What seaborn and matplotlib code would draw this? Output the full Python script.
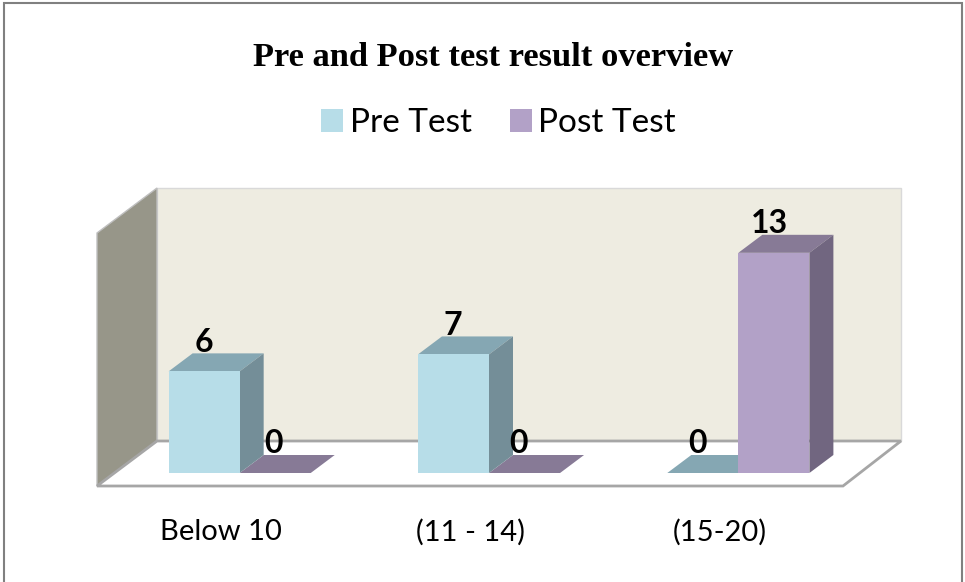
import matplotlib
matplotlib.use("Agg")
import matplotlib.pyplot as plt
from matplotlib.patches import Polygon, Rectangle
from matplotlib.transforms import IdentityTransform, ScaledTranslation
import pandas as pd
import seaborn as sns

categories = ["Below 10", "(11 - 14)", "(15-20)"]
pre_test = [6, 7, 0]
post_test = [0, 0, 13]
series_names = ["Pre Test", "Post Test"]
chart_title = "Pre and Post test result overview"

W, H = 965, 582
DEPTH_X, DEPTH_Y = 24, 18
sns.set_theme(style="white")
plt.rcParams["font.family"] = ["Lato", "DejaVu Sans"]

df = pd.DataFrame({
    "category": categories * 2,
    "series": [series_names[0]] * 3 + [series_names[1]] * 3,
    "value": pre_test + post_test,
})
colors = {series_names[0]: "#B7DDE8", series_names[1]: "#B2A1C7"}
tops = {series_names[0]: "#85A7B3", series_names[1]: "#877A96"}
sides = {series_names[0]: "#748E98", series_names[1]: "#716680"}

fig = plt.figure(figsize=(W / 100, H / 100), dpi=100, facecolor="white")
left, right, base, top = 115, 863, 473, 202
ax = fig.add_axes([left / W, (H - base) / H, (right - left) / W, (base - top) / H])
ax.patch.set_visible(False)

sns.barplot(data=df, x="category", y="value", hue="series", order=categories,
            hue_order=series_names, palette=colors, width=0.57, gap=0,
            saturation=1, ax=ax, zorder=3, legend=True, linewidth=0)
ax.set_xlim(-0.5, 2.5)
ax.set_ylim(0, 16)
ax.set_xlabel("")
ax.set_ylabel("")
ax.set_yticks([])
sns.despine(ax=ax, left=True, bottom=True)


def px(points):
    return [(x, H - y) for x, y in points]


def add_shape(points, color, z, edge="none", lw=0):
    ax.add_patch(Polygon(px(points), closed=True, facecolor=color, edgecolor=edge,
                         linewidth=lw, transform=IdentityTransform(),
                         clip_on=False, zorder=z))


# walls and floor of the 3D box
add_shape([(157, 188), (901, 188), (901, 441), (157, 441)], "#EEECE1", 0.5, "#D9D9D9", 1)
add_shape([(97, 233), (157, 188), (157, 441), (97, 486)], "#979689", 0.6, "#BFBFBF", 1)
add_shape([(97, 486), (157, 441), (901, 441), (843, 486)], "white", 0.7, "#A6A6A6", 2)

# depth faces computed from the bars seaborn drew
fig.canvas.draw()
bar_patches = [p for c in ax.containers for p in c.patches]
names = [series_names[0]] * 3 + [series_names[1]] * 3
for patch, name in zip(bar_patches, names):
    (x0, y0), (x1, y1) = ax.transData.transform(
        [(patch.get_x(), 0), (patch.get_x() + patch.get_width(), patch.get_height())])
    flat = patch.get_height() == 0
    add_shape([(x0, H - y1), (x1, H - y1), (x1 + DEPTH_X, H - y1 - DEPTH_Y),
               (x0 + DEPTH_X, H - y1 - DEPTH_Y)], tops[name], 1.4 if flat else 2)
    if not flat:
        add_shape([(x1, H - y1), (x1 + DEPTH_X, H - y1 - DEPTH_Y),
                   (x1 + DEPTH_X, H - y0 - DEPTH_Y), (x1, H - y0)], sides[name], 2)

# value labels
nudges = [0, -1, -5, -2, -6, -4]
for patch, nudge in zip(bar_patches, nudges):
    ax.annotate(f"{int(patch.get_height())}",
                (patch.get_x() + patch.get_width() / 2, patch.get_height()),
                xytext=(nudge * 0.72, 10.5), textcoords="offset points",
                ha="center", va="bottom", fontsize=23, fontweight="bold",
                color="black", zorder=5, annotation_clip=False)

# category labels sit under the front edge of the floor
ax.tick_params(axis="x", length=0, pad=33, labelsize=21, colors="black")
shift = ScaledTranslation(-18.6 / 100, 0, fig.dpi_scale_trans)
for lab in ax.get_xticklabels():
    lab.set_transform(lab.get_transform() + shift)

# title, legend and outer frame
fig.text(493 / W, 1 - 57 / H, chart_title, family=["Liberation Serif"], fontweight="bold",
         fontsize=24.8, ha="center", va="center", color="black")
handles, labels = ax.get_legend_handles_labels()
ax.legend(handles, labels, ncol=2, frameon=False, loc="center",
          bbox_to_anchor=(498.5 / W, 1 - 123 / H), bbox_transform=fig.transFigure,
          fontsize=24, handlelength=0.66, handleheight=0.66, handletextpad=0.19,
          columnspacing=1.15, labelcolor="black")
fig.add_artist(Rectangle((4 / W, -0.02), (962 - 4) / W, 1.02 - 3 / H, fill=False,
                         edgecolor="#808080", linewidth=1.5,
                         transform=fig.transFigure))

fig.savefig("out.png", dpi=100, facecolor="white")
